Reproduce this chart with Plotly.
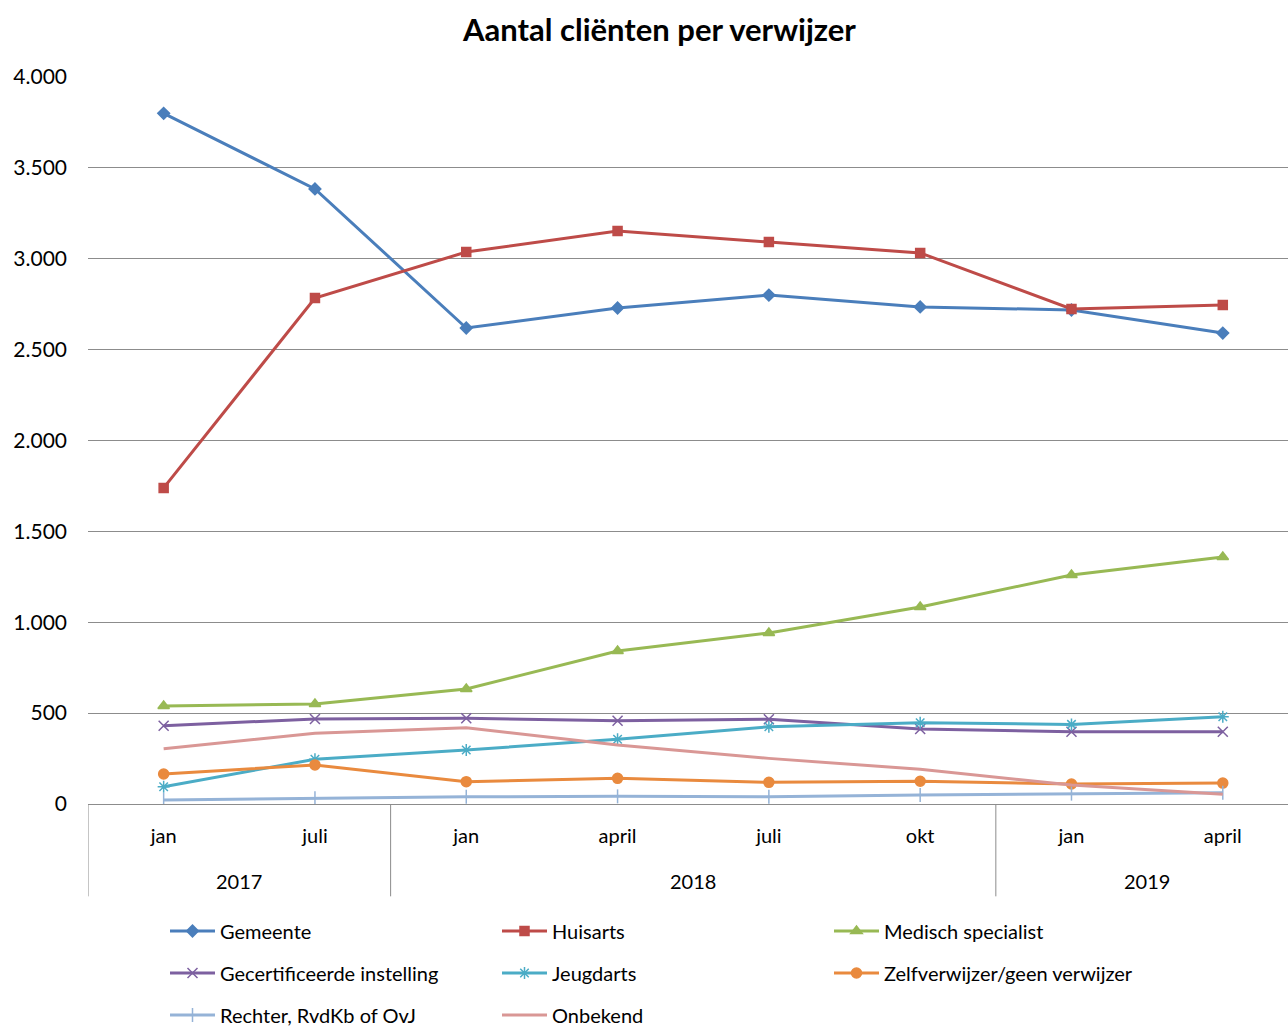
import plotly.graph_objects as go

months = ["jan", "juli", "jan", "april", "juli", "okt", "jan", "april"]
years = ["2017", "2018", "2019"]
year_centers = [0.5, 3.5, 6.5]
year_bounds = [-0.5, 1.5, 5.5]

gemeente = [3800, 3384, 2619, 2729, 2800, 2735, 2718, 2591]
huisarts = [1739, 2784, 3037, 3153, 3092, 3032, 2724, 2746]
medisch = [539, 550, 633, 842, 941, 1084, 1260, 1359]
gecert = [431, 468, 472, 458, 466, 413, 398, 398]
jeugdarts = [95, 246, 297, 356, 425, 447, 438, 480]
zelf = [165, 215, 123, 141, 119, 125, 110, 115]
rechter = [22, 31, 40, 42, 40, 50, 57, 62]
onbekend = [304, 389, 420, 325, 251, 191, 105, 53]

series = [
    ("Gemeente", gemeente, "#4A7EBB", "diamond", 9, "legend"),
    ("Huisarts", huisarts, "#BE4B48", "square", 9, "legend"),
    ("Medisch specialist", medisch, "#98B954", "triangle-up", 10, "legend"),
    ("Gecertificeerde instelling", gecert, "#7D60A0", "x-thin", 10, "legend2"),
    ("Jeugdarts", jeugdarts, "#4BACC6", "asterisk", 10, "legend2"),
    ("Zelfverwijzer/geen verwijzer", zelf, "#E98A3E", "circle", 10, "legend2"),
    ("Rechter, RvdKb of OvJ", rechter, "#95B3D7", "line-ns", 10, "legend3"),
    ("Onbekend", onbekend, "#D99795", None, 0, "legend3"),
]

x = list(range(len(months)))
fig = go.Figure()
for name, vals, col, sym, size, leg in series:
    marker = dict(color=col, size=size, symbol=sym if sym else "circle",
                  line=dict(color=col, width=1.5))
    fig.add_trace(go.Scatter(
        x=x, y=vals, name=name, legend=leg,
        mode="lines+markers" if sym else "lines",
        line=dict(color=col, width=3),
        marker=marker,
    ))

FONT = "Lato"
fig.update_layout(
    width=1288, height=1026,
    margin=dict(l=88, r=0, t=77, b=222),
    paper_bgcolor="white", plot_bgcolor="white",
    separators=",.",
    font=dict(family=FONT, size=20, color="#000000"),
    title=dict(text="<b>Aantal cliënten per verwijzer</b>", x=0.512, xanchor="center",
               y=0.971, yanchor="middle", font=dict(family=FONT, size=31, color="#000000")),
    showlegend=True,
)
fig.update_xaxes(
    range=[-0.5, 7.431], tickvals=x, ticktext=months, showgrid=False,
    zeroline=False, showline=False, ticks="", ticklabelstandoff=18,
    tickfont=dict(family=FONT, size=20, color="#000000"),
)
fig.update_yaxes(
    range=[0, 4000], dtick=500, tickformat=",d", showgrid=True,
    gridcolor="#8C8C8C", gridwidth=1, zeroline=True, zerolinecolor="#8C8C8C",
    zerolinewidth=1, showline=False, ticks="", ticklabelstandoff=20,
    tickfont=dict(family=FONT, size=21, color="#000000"),
)

for xc, yl in zip(year_centers, years):
    fig.add_annotation(x=xc, xref="x", y=-0.106, yref="paper", text=yl,
                       showarrow=False, font=dict(family=FONT, size=20, color="#000000"),
                       yanchor="middle")
for xb in year_bounds:
    fig.add_shape(type="line", xref="x", yref="paper", x0=xb, x1=xb, y0=0, y1=-0.127,
                  line=dict(color="#8C8C8C", width=1))

for i, leg in enumerate(["legend", "legend2", "legend3"]):
    fig.update_layout({leg: dict(
        orientation="h", x=165 / 1288, xref="container",
        y=1 - (931 + 42 * i) / 1026, yref="container", yanchor="middle",
        entrywidth=272, entrywidthmode="pixels", bgcolor="rgba(0,0,0,0)",
        font=dict(family=FONT, size=20, color="#000000"), itemwidth=45,
    )})

fig.write_html("out.html")
